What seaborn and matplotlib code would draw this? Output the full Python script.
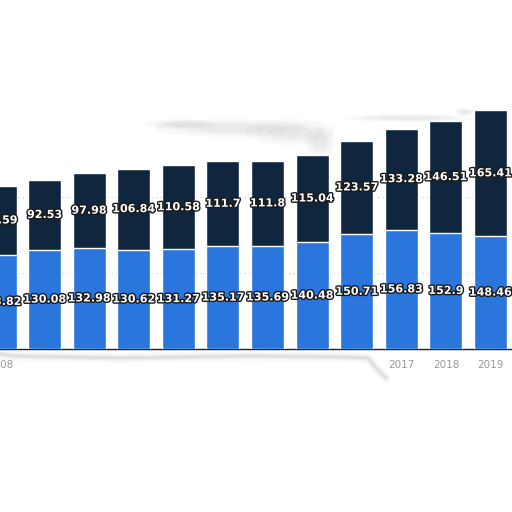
import matplotlib
matplotlib.use("Agg")
import matplotlib.pyplot as plt
import matplotlib.patheffects as pe
from matplotlib.patches import Polygon, Ellipse
import seaborn as sns
import pandas as pd

years = ["2008", "2009", "2010", "2011", "2012", "2013",
         "2014", "2015", "2016", "2017", "2018", "2019"]
lower_vals = [123.82, 130.08, 132.98, 130.62, 131.27, 135.17,
              135.69, 140.48, 150.71, 156.83, 152.9, 148.46]
upper_vals = [90.59, 92.53, 97.98, 106.84, 110.58, 111.7,
              111.8, 115.04, 123.57, 133.28, 146.51, 165.41]

BLUE = "#2a76dc"
NAVY = "#10263f"

df = pd.DataFrame({"year": years, "lower": lower_vals, "upper": upper_vals})
df["total"] = df["lower"] + df["upper"]

sns.set_style("white")
fig = plt.figure(figsize=(5.12, 5.12), dpi=100)
ax = fig.add_axes([0, (512 - 349) / 512, 1, 249 / 512])

sns.barplot(data=df, x="year", y="total", color=NAVY, width=0.74,
            saturation=1, ax=ax, zorder=2)
sns.barplot(data=df, x="year", y="lower", color=BLUE, width=0.74,
            saturation=1, ax=ax, zorder=3)

ax.set_xlim(0.0, 11.48)
ax.set_ylim(0, 249 / 0.76)
ax.set_yticks([100, 200])
ax.yaxis.grid(True, linestyle=(0, (1, 3)), color="#c8c8c8", linewidth=0.8, zorder=0)
ax.set_xlabel("")
ax.set_ylabel("")
ax.set_yticklabels([])
ax.tick_params(axis="y", length=0)
ax.tick_params(axis="x", length=0, pad=8, labelsize=7.5, labelcolor="#9a9a9a")
for s in ["top", "right", "left"]:
    ax.spines[s].set_visible(False)
ax.spines["bottom"].set_color("#222222")
ax.spines["bottom"].set_linewidth(1.0)

stroke = [pe.withStroke(linewidth=2, foreground="#1a1a1a")]
for i, row in df.iterrows():
    ax.text(i, row["lower"] / 2, f"{row['lower']:g}", ha="center", va="center",
            color="white", fontsize=8, fontweight="bold", path_effects=stroke, zorder=5)
    ax.text(i, row["lower"] + row["upper"] / 2, f"{row['upper']:g}", ha="center",
            va="center", color="white", fontsize=8, fontweight="bold",
            path_effects=stroke, zorder=5)

# torn paper overlay
ov = fig.add_axes([0, 0, 1, 1], zorder=10)
ov.set_xlim(0, 512)
ov.set_ylim(512, 0)
ov.axis("off")
ov.patch.set_alpha(0)

# bottom tear hiding most year labels
edge = [(0, 354), (14, 356), (120, 358), (250, 356), (340, 357), (368, 358),
        (376, 368), (386, 378)]
xs, ys = zip(*edge)
for w, a in [(7, 0.05), (4, 0.08), (2, 0.12)]:
    ov.plot(xs, ys, color="#808080", lw=w, alpha=a, solid_capstyle="round")
cover = [(14, 357), (120, 359), (250, 357), (340, 358), (368, 359),
         (376, 369), (386, 379), (390, 400), (14, 400)]
ov.add_patch(Polygon(cover, closed=True, facecolor="white", edgecolor="none"))

# soft grey shadow of the top tear
blobs = [(230, 128, 150, 18), (290, 132, 90, 26), (320, 142, 30, 30),
         (180, 124, 70, 10), (410, 118, 130, 8), (465, 112, 20, 8)]
for cx, cy, w, h in blobs:
    for k, a in [(1.0, 0.05), (0.75, 0.06), (0.5, 0.07)]:
        ov.add_patch(Ellipse((cx, cy), w * k, h * k, facecolor="#8a8a8a",
                             edgecolor="none", alpha=a))

fig.savefig("out.png", dpi=100, facecolor="white")
